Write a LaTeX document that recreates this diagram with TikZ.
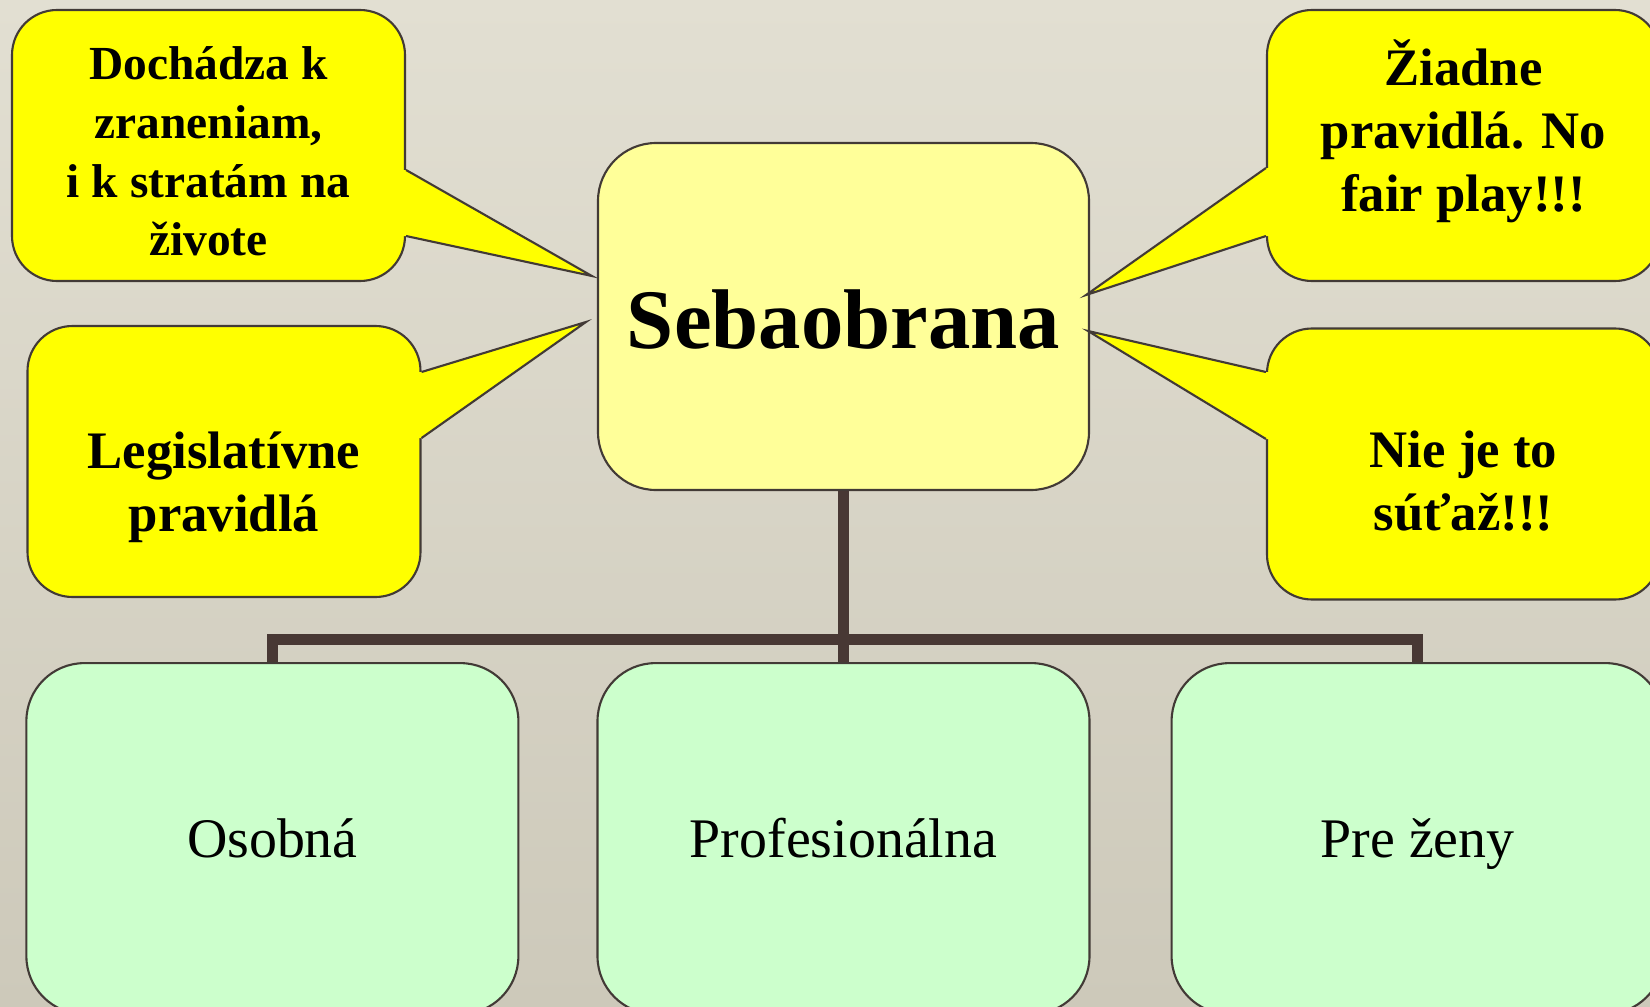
\documentclass[tikz,border=0pt]{standalone}
\usepackage{fontspec}
\setmainfont{Liberation Serif}
\usepackage{xcolor}
\usepackage{tikz}
\usetikzlibrary{positioning,calc}

\definecolor{paperlight}{RGB}{226,223,210}
\definecolor{paperdark}{RGB}{205,201,186}
\definecolor{edgegray}{RGB}{66,58,54}
\definecolor{linkbrown}{RGB}{72,56,52}
\definecolor{bubbleyellow}{RGB}{255,255,0}
\definecolor{mainyellow}{RGB}{255,255,153}
\definecolor{leafgreen}{RGB}{204,255,204}

\begin{document}
\begin{tikzpicture}[
  bubble/.style={draw=edgegray, line width=0.6pt, fill=bubbleyellow, rounded corners=0.45cm,
    minimum width=3.93cm, minimum height=2.71cm, inner sep=0pt},
  bubbletext/.style={align=center, inner sep=0pt, font=\fontsize{15}{17.9}\selectfont\bfseries},
  mainbox/.style={draw=edgegray, line width=0.6pt, fill=mainyellow, rounded corners=0.58cm,
    minimum width=4.91cm, minimum height=3.47cm, text height=18.3pt, text depth=0pt,
    font=\fontsize{24.1}{29}\selectfont\bfseries},
  leafbox/.style={draw=edgegray, line width=0.6pt, fill=leafgreen, rounded corners=0.58cm,
    minimum width=4.92cm, minimum height=3.51cm, text height=10.5pt, text depth=0pt,
    font=\fontsize{15.9}{19}\selectfont},
  link/.style={draw=linkbrown, line width=0.11cm},
  tail/.style={fill=bubbleyellow},
  tailedge/.style={draw=edgegray, line width=0.6pt}
]
  % Paper background
  \useasboundingbox (0,0) rectangle (16.5,-10.07);
  \clip (0,0) rectangle (16.5,-10.07);
  \shade[top color=paperlight, bottom color=paperdark] (0,0) rectangle (16.5,-10.07);

  % Callout boxes
  \node[bubble] (zranenia) at (2.085,-1.455) {};
  \node[bubble] (legislativa) at (2.24,-4.615) {};
  \node[bubble] (pravidla) at (14.635,-1.455) {};
  \node[bubble] (sutaz) at (14.635,-4.64) {};

  % Main box and the three kinds
  \node[mainbox] (sebaobrana) at (8.435,-3.165) {Sebaobrana};
  \node[leafbox, below=1.71cm of sebaobrana] (profesionalna) {Profesionálna};
  \node[leafbox, left=0.77cm of profesionalna] (osobna) {Osobná};
  \node[leafbox, right=0.8cm of profesionalna] (prezeny) {Pre ženy};

  % Tails of the callouts
  \fill[tail] ($(zranenia.east)+(-0.1,-0.245)$) -- ++(0.1,0) -- ($(sebaobrana.west)+(-0.05,0.405)$)
    -- ($(zranenia.east)+(0,-0.905)$) -- ++(-0.1,0) -- cycle;
  \draw[tailedge] ($(zranenia.east)+(0,-0.245)$) -- ($(sebaobrana.west)+(-0.05,0.405)$) -- ($(zranenia.east)+(0,-0.905)$);

  \fill[tail] ($(legislativa.east)+(-0.1,0.895)$) -- ++(0.1,0) -- ($(sebaobrana.west)+(-0.11,-0.055)$)
    -- ($(legislativa.east)+(0,0.235)$) -- ++(-0.1,0) -- cycle;
  \draw[tailedge] ($(legislativa.east)+(0,0.895)$) -- ($(sebaobrana.west)+(-0.11,-0.055)$) -- ($(legislativa.east)+(0,0.235)$);

  \fill[tail] ($(pravidla.west)+(0.1,-0.225)$) -- ++(-0.1,0) -- ($(sebaobrana.east)+(-0.04,0.215)$)
    -- ($(pravidla.west)+(0,-0.905)$) -- ++(0.1,0) -- cycle;
  \draw[tailedge] ($(pravidla.west)+(0,-0.225)$) -- ($(sebaobrana.east)+(-0.04,0.215)$) -- ($(pravidla.west)+(0,-0.905)$);

  \fill[tail] ($(sutaz.west)+(0.1,0.92)$) -- ++(-0.1,0) -- ($(sebaobrana.east)+(-0.02,-0.145)$)
    -- ($(sutaz.west)+(0,0.25)$) -- ++(0.1,0) -- cycle;
  \draw[tailedge] ($(sutaz.west)+(0,0.92)$) -- ($(sebaobrana.east)+(-0.02,-0.145)$) -- ($(sutaz.west)+(0,0.25)$);

  % Callout texts
  \node[bubbletext, font=\fontsize{13.5}{16.7}\selectfont\bfseries] (zranenia-text) at ($(zranenia)+(0,-0.06)$)
    {Dochádza k\\zraneniam,\\i k stratám na\\živote};
  \node[bubbletext] (legislativa-text) at ($(legislativa)+(0,-0.255)$) {Legislatívne\\pravidlá};
  \node[bubbletext] (pravidla-text) at ($(pravidla)+(0,0.145)$) {Žiadne\\pravidlá. No\\fair play!!!};
  \node[bubbletext] (sutaz-text) at ($(sutaz)+(0,-0.17)$) {Nie je to\\súťaž!!!};

  % Connectors
  \coordinate (split) at ($(sebaobrana.south)+(0,-1.485)$);
  \draw[link] (sebaobrana.south) -- (split);
  \draw[link] (osobna.north) |- (split) -| (prezeny.north);
  \draw[link] (split) -- (profesionalna.north);
\end{tikzpicture}
\end{document}
